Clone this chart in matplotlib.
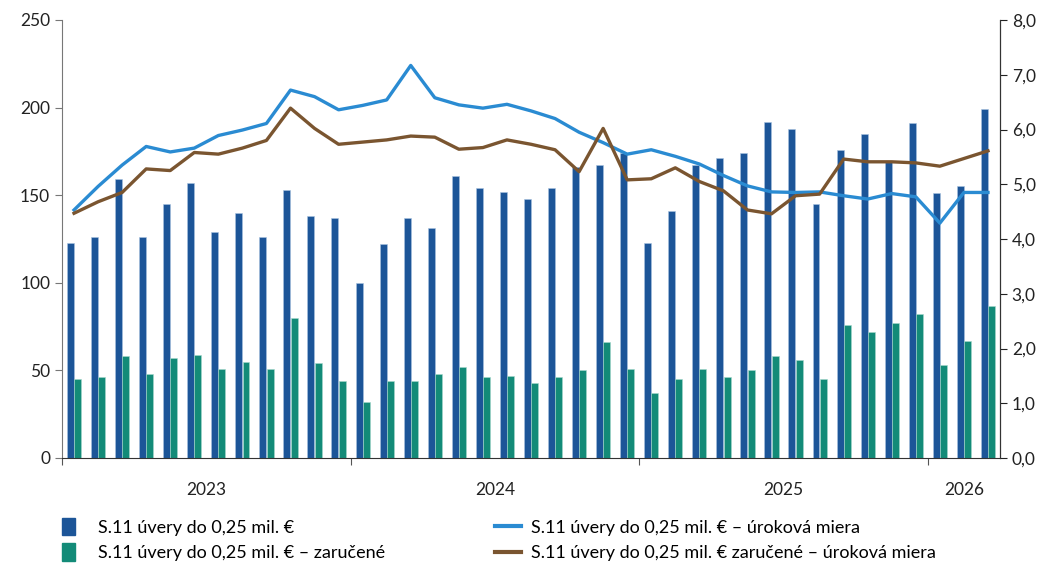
import matplotlib.pyplot as plt
import numpy as np
from matplotlib.patches import Patch, Rectangle
from matplotlib.lines import Line2D
from matplotlib.legend_handler import HandlerPatch
from matplotlib.ticker import FuncFormatter

plt.rcParams['font.family'] = ['Lato', 'DejaVu Sans']

# mesačné údaje 01/2023 - 03/2026
uvery = [123, 126, 159, 126, 145, 157, 129, 140, 126, 153, 138, 137,
         100, 122, 137, 131, 161, 154, 152, 148, 154, 166, 167, 174,
         123, 141, 167, 171, 174, 192, 188, 145, 176, 185, 169, 191,
         151, 155, 199]
zarucene = [45, 46, 58, 48, 57, 59, 51, 55, 51, 80, 54, 44,
            32, 44, 44, 48, 52, 46, 47, 43, 46, 50, 66, 51,
            37, 45, 51, 46, 50, 58, 56, 45, 76, 72, 77, 82,
            53, 67, 87]
miera = [4.53, 4.96, 5.35, 5.69, 5.59, 5.66, 5.89, 5.99, 6.11, 6.72, 6.60, 6.36,
         6.44, 6.54, 7.17, 6.58, 6.45, 6.39, 6.46, 6.34, 6.20, 5.95, 5.76, 5.55,
         5.63, 5.51, 5.37, 5.16, 4.97, 4.86, 4.85, 4.86, 4.79, 4.73, 4.83, 4.77,
         4.29, 4.85, 4.85]
miera_zar = [4.47, 4.68, 4.85, 5.28, 5.25, 5.58, 5.55, 5.66, 5.80, 6.39, 6.02, 5.73,
             5.77, 5.81, 5.88, 5.86, 5.64, 5.67, 5.81, 5.73, 5.63, 5.23, 6.02, 5.08,
             5.10, 5.30, 5.05, 4.88, 4.53, 4.46, 4.79, 4.82, 5.46, 5.41, 5.41, 5.39,
             5.33, 5.47, 5.61]
roky = ['2023', '2024', '2025', '2026']

c_bar1 = '#1c5598'
c_bar2 = '#138b78'
c_line1 = '#2a8bd2'
c_line2 = '#7a5530'

x = np.arange(len(uvery))

fig = plt.figure(figsize=(10.51, 5.64), dpi=100)
ax = fig.add_axes([62 / 1051, 1 - 458 / 564, 938 / 1051, 438 / 564])
ax2 = ax.twinx()

w = 0.29
ax.bar(x - 0.15, uvery, width=w, color=c_bar1, edgecolor='#a9c3e0', linewidth=0.4)
ax.bar(x + 0.15, zarucene, width=w, color=c_bar2, edgecolor='#a8d8cc', linewidth=0.4)

ax2.plot(x, miera, color=c_line1, lw=2.4)
ax2.plot(x, miera_zar, color=c_line2, lw=2.4)

ax.set_xlim(-0.5, len(x) - 0.5)
ax.set_ylim(0, 250)
ax2.set_ylim(0, 8)
ax.set_yticks(range(0, 251, 50))
ax2.set_yticks(range(0, 9))
ax2.yaxis.set_major_formatter(FuncFormatter(lambda v, p: f'{v:.1f}'.replace('.', ',')))

# hranice rokov a popisy
ax.set_xticks([-0.5, 11.5, 23.5, 35.5])
ax.set_xticklabels([])
ax.tick_params(axis='x', length=5, color='#555555')
centers = [5.5, 17.5, 29.5, 37.0]
for c, r in zip(centers, roky):
    ax.text(c, -0.055, r, transform=ax.get_xaxis_transform(), ha='center', va='top',
            fontsize=12.5, color='#222222')

for a in (ax, ax2):
    a.spines['top'].set_visible(False)
    a.tick_params(axis='y', labelsize=12.5, colors='#222222', length=5)
ax.spines['left'].set_color('#777777')
ax.spines['bottom'].set_color('#333333')
ax2.spines['right'].set_color('#333333')
ax2.spines['left'].set_visible(False)
ax2.spines['bottom'].set_visible(False)
ax.tick_params(axis='y', color='#777777')


def square(legend, orig_handle, xdescent, ydescent, width, height, fontsize):
    return Rectangle((-xdescent, -ydescent - 1), width * 0.52, height + 2)


handles = [Patch(color=c_bar1), Patch(color=c_bar2),
           Line2D([], [], color=c_line1, lw=3), Line2D([], [], color=c_line2, lw=3)]
labels = ['S.11 úvery do 0,25 mil. €',
          'S.11 úvery do 0,25 mil. € – zaručené',
          'S.11 úvery do 0,25 mil. € – úroková miera',
          'S.11 úvery do 0,25 mil. € zaručené – úroková miera']
fig.legend(handles, labels, ncol=2, loc='upper left',
           bbox_to_anchor=(62 / 1051, 1 - 519 / 564), borderpad=0, borderaxespad=0,
           frameon=False, fontsize=13, handlelength=1.4, handleheight=0.9,
           columnspacing=6.1, labelspacing=0.5, handletextpad=0.6,
           handler_map={Patch: HandlerPatch(patch_func=square)})

fig.savefig('out.png', dpi=100)
